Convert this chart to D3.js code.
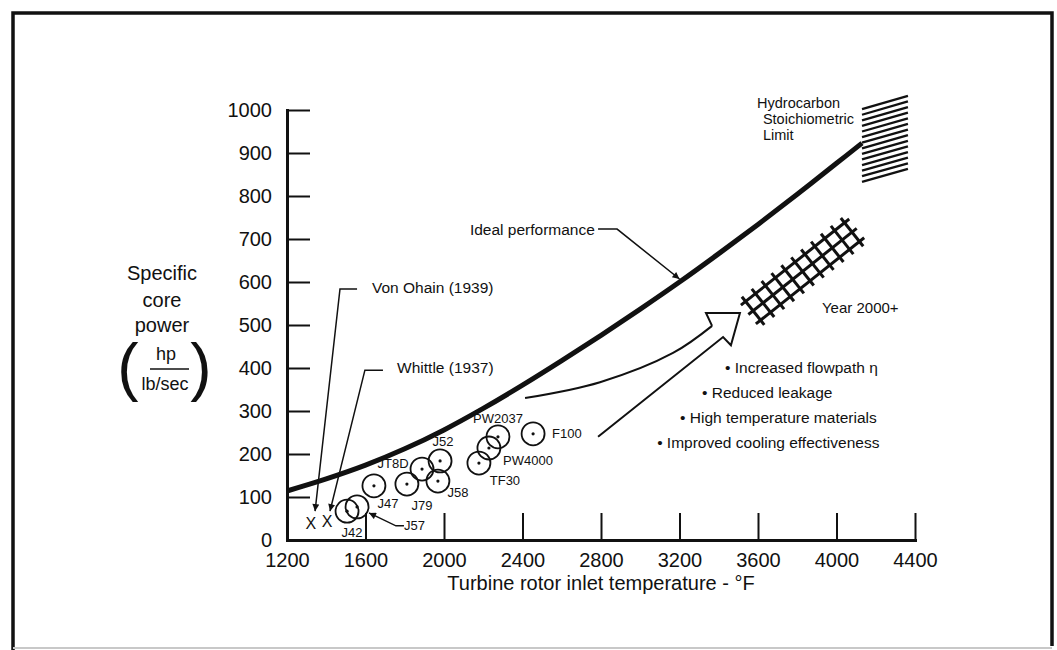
<!DOCTYPE html>
<html><head><meta charset="utf-8">
<script src="https://cdn.jsdelivr.net/npm/d3@7"></script>
<style>
body{margin:0;background:#fff}
svg{display:block}
text{font-family:"Liberation Sans",Arial,Helvetica,sans-serif;fill:#111}
</style>
</head><body><svg id="c" width="1057" height="650"></svg>
<script>
// ---------- data ----------
const xTicks = [1200,1600,2000,2400,2800,3200,3600,4000,4400];
const yTicks = [0,100,200,300,400,500,600,700,800,900,1000];

// Ideal performance curve (temperature °F, specific core power)
const idealT = [1200,1400,1600,1800,2000,2200,2400,2600,2800,3000,3200,3400,3600,3800,4000,4130];
const idealV = [114,142,174,212,256,306,360,417,476,537,600,666,734,804,876,923];

// Engines
const engines = ["J42","J57","J47","J79","JT8D","J52","J58","TF30","PW4000","PW2037","F100"];
const engineT = [1506,1557,1643,1811,1888,1980,1969,2178,2229,2275,2454];
const engineV = [67,77,126,130,165,184,137,179,214,240,247];

// Pioneers (X markers)
const pioneers = ["Von Ohain (1939)","Whittle (1937)"];
const pioneerT = [1322,1404];
const pioneerV = [40,44];

// Improvement bullets
const improvements = ["Increased flowpath \u03b7","Reduced leakage","High temperature materials","Improved cooling effectiveness"];

// ---------- layout ----------
const svg = d3.select("#c");
const x = d3.scaleLinear().domain([1200,4400]).range([287,915]);
const y = d3.scaleLinear().domain([0,1000]).range([540,110]);
const P = (t,v)=>[x(t),y(v)];
const lineTV = d3.line().x(d=>x(d[0])).y(d=>y(d[1]));

// frame
svg.append("path").attr("d","M13,650 L13,13 L1052,13 L1052,646")
  .attr("fill","none").attr("stroke","#111").attr("stroke-width",3.5);
svg.append("line").attr("x1",13).attr("x2",1052).attr("y1",648).attr("y2",648)
  .attr("stroke","#c8c8c8").attr("stroke-width",2);

// marker
const defs = svg.append("defs");
defs.append("marker").attr("id","ah").attr("viewBox","0 0 10 10")
  .attr("refX",10).attr("refY",5).attr("markerWidth",9).attr("markerHeight",7)
  .attr("markerUnits","userSpaceOnUse").attr("orient","auto")
  .append("path").attr("d","M0,0 L10,5 L0,10 z").attr("fill","#111");

// axes
const gx = svg.append("g").attr("transform",`translate(0,${y(0)})`)
  .call(d3.axisBottom(x).tickValues(xTicks).tickSizeInner(-27).tickSizeOuter(0).tickPadding(15).tickFormat(d3.format("d")));
const gy = svg.append("g").attr("transform",`translate(${x(1200)},0)`)
  .call(d3.axisLeft(y).tickValues(yTicks).tickSizeInner(-23).tickSizeOuter(0).tickPadding(15).tickFormat(d3.format("d")));
[gx,gy].forEach(g=>{
  g.select(".domain").attr("stroke","#111").attr("stroke-width",3).attr("stroke-linecap","square");
  g.selectAll(".tick line").attr("stroke","#111").attr("stroke-width",2);
  g.selectAll(".tick text").attr("fill","#111").style("font-size","20px").style("font-family",'"Liberation Sans",Arial,sans-serif');
});
gx.selectAll(".tick text").attr("dy","0.6em");
gy.selectAll(".tick text").attr("dy","0.3em");
gy.selectAll(".tick").filter(d=>d===0).select("line").remove();
gx.selectAll(".tick").filter(d=>d===1200).select("line").remove();

// axis titles
svg.append("text").attr("x",(x(1200)+x(4400))/2).attr("y",583).attr("dy","0.35em")
  .attr("text-anchor","middle").style("font-size","20px").text("Turbine rotor inlet temperature - \u00b0F");
const yt = svg.append("g");
[["Specific",273],["core",300],["power",325]].forEach(([s,yy])=>{
  yt.append("text").attr("x",162).attr("y",yy).attr("dy","0.35em").attr("text-anchor","middle")
    .style("font-size","20px").text(s);
});
yt.append("text").attr("x",166).attr("y",354).attr("dy","0.35em").attr("text-anchor","middle").style("font-size","18px").text("hp");
yt.append("line").attr("x1",150).attr("x2",189).attr("y1",369).attr("y2",369).attr("stroke","#111").attr("stroke-width",1.6);
yt.append("text").attr("x",165).attr("y",384).attr("dy","0.35em").attr("text-anchor","middle").style("font-size","18px").text("lb/sec");
yt.append("text").attr("x",128).attr("y",389).attr("text-anchor","middle").style("font-size","64px").text("(");
yt.append("text").attr("x",201).attr("y",389).attr("text-anchor","middle").style("font-size","64px").text(")");

// ideal performance curve
const idealData = idealT.map((t,i)=>[t,idealV[i]]);
svg.append("path").datum(idealData)
  .attr("d",d3.line().x(d=>x(d[0])).y(d=>y(d[1])).curve(d3.curveCatmullRom))
  .attr("fill","none").attr("stroke","#111").attr("stroke-width",5);

// hydrocarbon stoichiometric limit hatch
const hcT = [4130,4364];
const hcTop = [1002,1033], hcBot = [833,863];
const nH = 14;
d3.range(nH).forEach(i=>{
  const f = i/(nH-1);
  const vl = hcTop[0]+(hcBot[0]-hcTop[0])*f, vr = hcTop[1]+(hcBot[1]-hcTop[1])*f;
  svg.append("line").attr("x1",x(hcT[0])).attr("y1",y(vl)).attr("x2",x(hcT[1])).attr("y2",y(vr))
    .attr("stroke","#111").attr("stroke-width",2.3);
});
const hcTxt = svg.append("g").style("font-size","14.5px");
hcTxt.append("text").attr("x",x(3595)).attr("y",y(1016)).attr("dy","0.35em").text("Hydrocarbon");
hcTxt.append("text").attr("x",x(3625)).attr("y",y(979)).attr("dy","0.35em").text("Stoichiometric");
hcTxt.append("text").attr("x",x(3625)).attr("y",y(942)).attr("dy","0.35em").text("Limit");

// Year 2000+ crosshatch band
const bandStart = P(3575,533), bandEnd = P(4079,716);
(function(){
  const dx = bandEnd[0]-bandStart[0], dy = bandEnd[1]-bandStart[1];
  const L = Math.hypot(dx,dy), ux = dx/L, uy = dy/L, nx = -uy, ny = ux;
  const g = svg.append("g").attr("stroke","#111").attr("stroke-width",3).attr("stroke-linecap","butt");
  [-12,0,12].forEach(o=>{
    g.append("line")
      .attr("x1",bandStart[0]+nx*o-ux*6).attr("y1",bandStart[1]+ny*o-uy*6)
      .attr("x2",bandEnd[0]+nx*o+ux*6).attr("y2",bandEnd[1]+ny*o+uy*6);
  });
  const nk = 11;
  d3.range(nk).forEach(k=>{
    const cx = bandStart[0]+ux*L*k/(nk-1), cy = bandStart[1]+uy*L*k/(nk-1);
    g.append("line").attr("x1",cx-nx*18).attr("y1",cy-ny*18).attr("x2",cx+nx*18).attr("y2",cy+ny*18);
  });
})();
svg.append("text").attr("x",x(3926)).attr("y",y(540)).attr("dy","0.35em").style("font-size","15px").text("Year 2000+");

// hollow sweep arrow
const upper = [[2413,330],[2795,367],[3167,435],[3366,498]];
svg.append("path").datum(upper)
  .attr("d",lineTV.curve(d3.curveCatmullRom)(upper))
  .attr("fill","none").attr("stroke","#111").attr("stroke-width",2);
const head = [[3366,498],[3335,528],[3508,528],[3462,453],[3422,472],[2785,240]];
svg.append("path")
  .attr("d",d3.line().x(d=>x(d[0])).y(d=>y(d[1]))(head))
  .attr("fill","none").attr("stroke","#111").attr("stroke-width",2).attr("stroke-linejoin","miter");

// improvements list
const impT = [3432,3315,3203,3086], impV = [402,342,284,226];
improvements.forEach((s,i)=>{
  svg.append("text").attr("x",x(impT[i])).attr("y",y(impV[i])).attr("dy","0.35em")
    .style("font-size","15.5px").text("\u2022 "+s);
});

// ideal performance label + leader
svg.append("text").attr("x",x(2132)).attr("y",y(723)).attr("dy","0.35em").style("font-size","15.5px").text("Ideal performance");
svg.append("path")
  .attr("d",d3.line().x(d=>x(d[0])).y(d=>y(d[1]))([[2785,723],[2882,723],[3200,607]]))
  .attr("fill","none").attr("stroke","#111").attr("stroke-width",1.5).attr("marker-end","url(#ah)");

// pioneers
const pionTxt = [[1633,586],[1761,402]];
const pionLead = [[[1557,584],[1470,584],[1343,67]],[[1689,395],[1597,395],[1419,67]]];
pioneers.forEach((s,i)=>{
  svg.append("text").attr("x",x(pioneerT[i])).attr("y",y(pioneerV[i])).attr("dy","0.36em")
    .attr("text-anchor","middle").style("font-size","16px").text("X");
  svg.append("text").attr("x",x(pionTxt[i][0])).attr("y",y(pionTxt[i][1])).attr("dy","0.35em")
    .style("font-size","15.5px").text(s);
  svg.append("path")
    .attr("d",d3.line().x(d=>x(d[0])).y(d=>y(d[1]))(pionLead[i]))
    .attr("fill","none").attr("stroke","#111").attr("stroke-width",1.5).attr("marker-end","url(#ah)");
});

// engine circles
const labelOff = {J42:[5,21,"middle"],J57:[47,19,"start"],J47:[14,18,"middle"],J79:[15,21,"middle"],
  JT8D:[-29,-6,"middle"],J52:[3,-19,"middle"],J58:[20,11,"middle"],TF30:[26,17,"middle"],
  PW4000:[39,12,"middle"],PW2037:[0,-18,"middle"],F100:[19,0,"start"]};
engines.forEach((e,i)=>{
  const cx = x(engineT[i]), cy = y(engineV[i]);
  svg.append("circle").attr("cx",cx).attr("cy",cy).attr("r",11.5)
    .attr("fill","none").attr("stroke","#111").attr("stroke-width",1.8);
  svg.append("circle").attr("cx",cx).attr("cy",cy).attr("r",1.6).attr("fill","#111");
  const o = labelOff[e];
  svg.append("text").attr("x",cx+o[0]).attr("y",cy+o[1]).attr("dy","0.35em")
    .attr("text-anchor",o[2]).style("font-size","13px").text(e);
});
// J57 leader
svg.append("path")
  .attr("d",d3.line().x(d=>x(d[0])).y(d=>y(d[1]))([[1796,33],[1755,33],[1618,63]]))
  .attr("fill","none").attr("stroke","#111").attr("stroke-width",1.5).attr("marker-end","url(#ah)");
</script>
</body></html>
